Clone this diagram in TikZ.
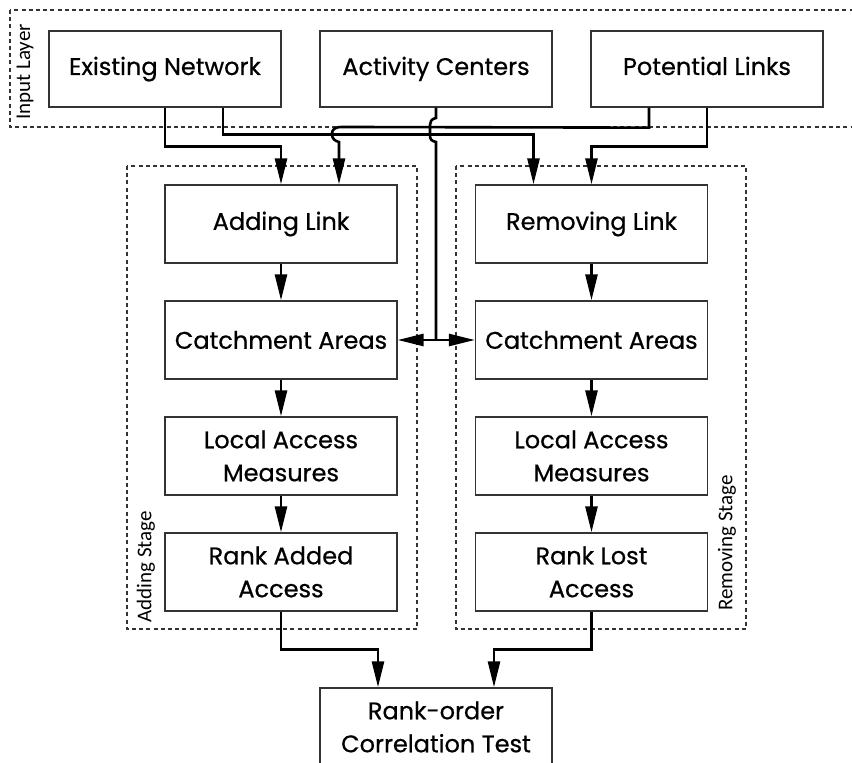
\documentclass[tikz,border=0pt]{standalone}
\usepackage{fontspec}
\setmainfont{Poppins}[FakeBold=0.6]
\newfontfamily\labelfont{Carlito}
\usetikzlibrary{arrows.meta}
\tikzset{
  box/.style={draw=black!80, line width=0.65pt, minimum width=116pt, minimum height=39pt,
    inner sep=0pt, align=center, font=\fontsize{12}{16.5}\selectfont},
  toprow/.style={box, minimum height=38pt, text height=8.5pt, text depth=2.5pt},
  conn/.style={line width=1.3pt},
  arr/.style={conn, -{Triangle[length=13pt,width=6pt]}},
  layer/.style={draw=black!80, line width=0.6pt, dash pattern=on 2pt off 1.6pt},
  side/.style={rotate=90, font=\labelfont\fontsize{10.5}{12}\selectfont}
}
\begin{document}
\begin{tikzpicture}[x=0.5pt,y=0.5pt]
\useasboundingbox (0,0) rectangle (852,763);
\draw[layer] (10,753) rectangle (862,636);
\draw[layer] (127,597) rectangle (417,134);
\draw[layer] (456,597) rectangle (746,134);
\node[side] (inlay) at (25,691) {Input Layer};
\node[side] (addst) at (146,196) {Adding Stage};
\node[side] (remst) at (727,220) {Removing Stage};
\node[toprow] (exnet) at (165,694) {Existing Network};
\node[toprow] (actc) at (436,694) {Activity Centers};
\node[toprow] (potl) at (707,694) {Potential Links};
\node[box] (addlink) at (281,539) {Adding Link};
\node[box] (catchL) at (281,423) {Catchment Areas};
\node[box] (accL) at (281,307) {Local Access\\Measures};
\node[box] (rankL) at (281,191) {Rank Added\\Access};
\node[box] (remlink) at (591.5,539) {Removing Link};
\node[box] (catchR) at (591.5,423) {Catchment Areas};
\node[box] (accR) at (591.5,307) {Local Access\\Measures};
\node[box] (rankR) at (591.5,191) {Rank Lost\\Access};
\node[box] (rankord) at (436,36) {Rank-order\\Correlation Test};
\draw[arr] (exnet.south) -- ++(0,-39) -| (addlink.north);
\draw[arr] ([xshift=29pt]exnet.south) -- ++(0,-27) -| ([xshift=-29pt]remlink.north);
\draw[arr] ([xshift=-29pt]potl.south) -- ++(0,-20) -- (342,636)
  .. controls (334,636) and (332,633) .. (332,629)
  .. controls (332,624) and (335,622) .. (339,621) -- ([xshift=29pt]addlink.north);
\draw[arr] (potl.south) -- ++(0,-39) -| (remlink.north);
\draw[conn] (actc.south) -- (436,645)
  .. controls (431,644) and (430,641) .. (430,638) -- (430,628)
  .. controls (430,624) and (431,622) .. (436,621) -- (actc.south |- catchL.east) coordinate (split);
\draw[arr] (split) -- (catchL.east);
\draw[arr] (split) -- (catchR.west);
\draw[arr] (addlink) -- (catchL);
\draw[arr] (catchL) -- (accL);
\draw[arr] (accL) -- (rankL);
\draw[arr] (remlink) -- (catchR);
\draw[arr] (catchR) -- (accR);
\draw[arr] (accR) -- (rankR);
\draw[arr] (rankL.south) -- ++(0,-38) -| ([xshift=-29pt]rankord.north);
\draw[arr] (rankR.south) -- ++(0,-38) -| ([xshift=29pt]rankord.north);
\end{tikzpicture}
\end{document}
